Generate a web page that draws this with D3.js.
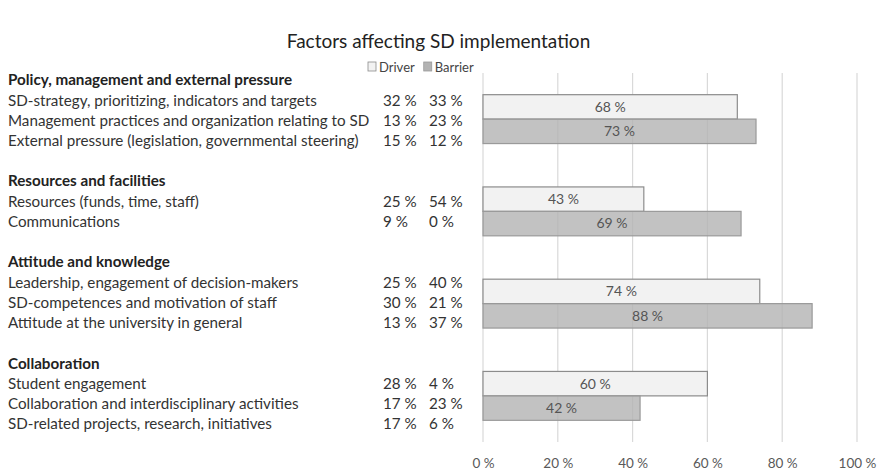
<!DOCTYPE html>
<html>
<head>
<meta charset="utf-8">
<script src="https://cdn.jsdelivr.net/npm/d3@7.9.0/dist/d3.min.js"></script>
<style>
  body { margin: 0; background: #fff; }
  svg text { font-family: Lato, "Open Sans", sans-serif; }
</style>
</head>
<body>
<svg id="chart"></svg>
<script>
const width = 877;
const height = 471;

// Data
const groups = [
  "Policy, management and external pressure",
  "Resources and facilities",
  "Attitude and knowledge",
  "Collaboration"
];
const items = [
  ["SD-strategy, prioritizing, indicators and targets",
   "Management practices and organization relating to SD",
   "External pressure (legislation, governmental steering)"],
  ["Resources (funds, time, staff)",
   "Communications"],
  ["Leadership, engagement of decision-makers",
   "SD-competences and motivation of staff",
   "Attitude at the university in general"],
  ["Student engagement",
   "Collaboration and interdisciplinary activities",
   "SD-related projects, research, initiatives"]
];
const itemDriver = [[32, 13, 15], [25, 9], [25, 30, 13], [28, 17, 17]];
const itemBarrier = [[33, 23, 12], [54, 0], [40, 21, 37], [4, 23, 6]];
const groupDriver = [68, 43, 74, 60];
const groupBarrier = [73, 69, 88, 42];
const series = ["Driver", "Barrier"];
const xTicks = [0, 20, 40, 60, 80, 100];

const colors = { Driver: "#f2f2f2", Barrier: "#b3b3b3" };
const strokes = { Driver: "#8c8c8c", Barrier: "#9a9a9a" };
const fontSize = "15.2px";

const svg = d3.select("#chart").attr("width", width).attr("height", height);

// Title
svg.append("text")
  .attr("x", width / 2)
  .attr("y", 48)
  .attr("text-anchor", "middle")
  .style("font-size", "19px")
  .style("fill", "#222")
  .text("Factors affecting SD implementation");

// Legend
const legend = svg.append("g").attr("transform", "translate(368, 67)");
let lx = 0;
series.forEach(s => {
  legend.append("rect")
    .attr("x", lx).attr("y", -5)
    .attr("width", 8).attr("height", 9)
    .attr("fill", colors[s]).attr("stroke", strokes[s]).attr("stroke-width", 0.8);
  const t = legend.append("text")
    .attr("x", lx + 11).attr("y", 4.5)
    .style("font-size", "13px")
    .style("fill", "#444")
    .text(s);
  lx += 11 + t.node().getComputedTextLength() + 9;
});

// Scales
const x = d3.scaleLinear().domain([0, 100]).range([483, 857]);
const y = d3.scaleBand().domain(groups).range([73, 442]).paddingInner(0.47).paddingOuter(0.235);
const ySub = d3.scaleBand().domain(series).range([0, y.bandwidth()]);

// Grid
svg.append("g")
  .selectAll("line")
  .data(xTicks)
  .join("line")
  .attr("x1", d => x(d)).attr("x2", d => x(d))
  .attr("y1", 73).attr("y2", 442)
  .attr("stroke", "#d9d9d9")
  .attr("stroke-width", 1.2);

// X axis
const xAxis = svg.append("g")
  .attr("transform", "translate(0, 452)")
  .call(d3.axisBottom(x).tickValues(xTicks).tickFormat(d => d + " %").tickSize(0).tickPadding(6));
xAxis.select(".domain").remove();
xAxis.selectAll("text")
  .style("font-size", "13.5px")
  .style("font-family", "Lato, sans-serif")
  .attr("fill", "#595959");

// Bars
const barData = [];
groups.forEach((g, i) => {
  barData.push({ group: g, series: "Driver", value: groupDriver[i] });
  barData.push({ group: g, series: "Barrier", value: groupBarrier[i] });
});

const bars = svg.append("g");
bars.selectAll("rect")
  .data(barData)
  .join("rect")
  .attr("x", x(0))
  .attr("y", d => y(d.group) + ySub(d.series))
  .attr("width", d => x(d.value) - x(0))
  .attr("height", ySub.bandwidth())
  .attr("fill", d => colors[d.series])
  .attr("fill-opacity", d => d.series === "Barrier" ? 0.8 : 1)
  .attr("stroke", d => strokes[d.series])
  .attr("stroke-width", 1.2);

bars.selectAll("text")
  .data(barData)
  .join("text")
  .attr("x", d => x(d.value / 2))
  .attr("y", d => y(d.group) + ySub(d.series) + ySub.bandwidth() / 2)
  .attr("dy", "0.35em")
  .attr("text-anchor", "middle")
  .style("font-size", "14px")
  .style("fill", "#555")
  .text(d => d.value + " %");

// Left-hand table
const lineY = d3.scaleLinear().domain([0, 17]).range([80, 424]);
const table = svg.append("g");
let line = 0;
groups.forEach((g, i) => {
  table.append("text")
    .attr("x", 8).attr("y", lineY(line)).attr("dy", "0.35em")
    .style("font-size", fontSize).style("font-weight", "bold").style("fill", "#222")
    .text(g);
  line++;
  items[i].forEach((it, j) => {
    const yy = lineY(line);
    table.append("text")
      .attr("x", 8).attr("y", yy).attr("dy", "0.35em")
      .style("font-size", fontSize).style("fill", "#333")
      .text(it);
    table.append("text")
      .attr("x", 383).attr("y", yy).attr("dy", "0.35em")
      .style("font-size", fontSize).style("fill", "#333")
      .text(itemDriver[i][j] + " %");
    table.append("text")
      .attr("x", 429).attr("y", yy).attr("dy", "0.35em")
      .style("font-size", fontSize).style("fill", "#333")
      .text(itemBarrier[i][j] + " %");
    line++;
  });
  line++;
});
</script>
</body>
</html>
